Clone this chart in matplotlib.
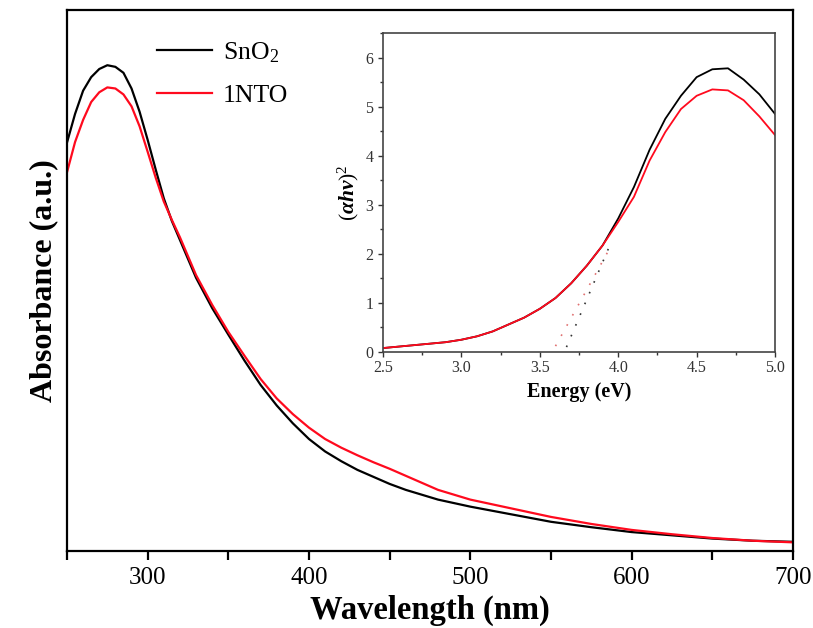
import matplotlib
matplotlib.use("Agg")
import matplotlib.pyplot as plt
from matplotlib.ticker import MultipleLocator

plt.rcParams["font.family"] = ["Liberation Serif", "DejaVu Serif"]
plt.rcParams["mathtext.fontset"] = "custom"
plt.rcParams["mathtext.rm"] = "Liberation Serif"
plt.rcParams["mathtext.it"] = "Liberation Serif:italic:bold"
plt.rcParams["mathtext.bf"] = "Liberation Serif:bold"

# UV-vis absorbance spectra (arbitrary units)
wavelength = [250, 255, 260, 265, 270, 275, 280, 285, 290, 295, 300, 305, 310, 315,
              320, 330, 340, 350, 360, 370, 380, 390, 400, 410, 420, 430, 440, 450,
              460, 480, 500, 525, 550, 575, 600, 625, 650, 675, 700]
abs_sno2 = [0.755, 0.808, 0.851, 0.876, 0.891, 0.898, 0.895, 0.884, 0.855, 0.812,
            0.760, 0.705, 0.652, 0.610, 0.575, 0.505, 0.449, 0.400, 0.352, 0.307,
            0.269, 0.236, 0.207, 0.184, 0.166, 0.150, 0.137, 0.124, 0.113, 0.095,
            0.082, 0.068, 0.054, 0.044, 0.035, 0.029, 0.023, 0.019, 0.017]
abs_1nto = [0.700, 0.756, 0.797, 0.830, 0.848, 0.857, 0.855, 0.844, 0.822, 0.785,
            0.738, 0.690, 0.646, 0.612, 0.580, 0.510, 0.455, 0.405, 0.361, 0.318,
            0.282, 0.253, 0.228, 0.207, 0.191, 0.177, 0.164, 0.152, 0.139, 0.113,
            0.095, 0.079, 0.063, 0.050, 0.039, 0.031, 0.024, 0.019, 0.016]

# Tauc plot data
energy = [2.5, 2.6, 2.7, 2.8, 2.9, 3.0, 3.1, 3.2, 3.3, 3.4, 3.5, 3.6, 3.7, 3.8, 3.9,
          4.0, 4.1, 4.2, 4.3, 4.4, 4.5, 4.6, 4.7, 4.8, 4.9, 5.0]
tauc_sno2 = [0.08, 0.11, 0.14, 0.17, 0.20, 0.25, 0.32, 0.42, 0.56, 0.70, 0.88, 1.10,
             1.40, 1.76, 2.17, 2.72, 3.36, 4.12, 4.75, 5.22, 5.60, 5.76, 5.78, 5.55,
             5.25, 4.85]
tauc_1nto = [0.08, 0.11, 0.14, 0.17, 0.20, 0.25, 0.32, 0.42, 0.56, 0.70, 0.88, 1.10,
             1.40, 1.76, 2.17, 2.65, 3.16, 3.90, 4.48, 4.95, 5.22, 5.35, 5.33, 5.13,
             4.80, 4.42]

# Linear extrapolations of the absorption edge
fit_sno2_E = [3.67, 3.95]
fit_sno2_y = [0.10, 2.20]
fit_1nto_E = [3.60, 3.93]
fit_1nto_y = [0.12, 2.02]

labels = ["SnO$_2$", "1NTO"]
black = "#000000"
red = "#ff0a1e"

fig = plt.figure(figsize=(8.13, 6.28), dpi=100)
ax = fig.add_axes([0.0824, 0.1226, 0.8930, 0.8614])

ax.plot(wavelength, abs_sno2, color=black, lw=1.6, label=labels[0])
ax.plot(wavelength, abs_1nto, color=red, lw=1.6, label=labels[1])
ax.set_xlim(250, 700)
ax.set_ylim(0, 1.0)
ax.set_yticks([])
ax.xaxis.set_major_locator(MultipleLocator(100))
ax.xaxis.set_minor_locator(MultipleLocator(50))
ax.tick_params(axis="x", which="both", direction="out", length=6.5, width=1.6,
               labelsize=18, pad=5, top=False)
for s in ax.spines.values():
    s.set_linewidth(1.6)
ax.set_xlabel("Wavelength (nm)", fontsize=23.5, fontweight="bold", labelpad=4)
ax.set_ylabel("Absorbance (a.u.)", fontsize=23, fontweight="bold", labelpad=6)

ax.legend(loc="upper left", bbox_to_anchor=(0.124, 0.944), frameon=False,
          fontsize=18.5, handlelength=2.15, handletextpad=0.4, labelspacing=0.75,
          borderpad=0, borderaxespad=0)

# Inset: Tauc plot
ins = fig.add_axes([0.4711, 0.4395, 0.4822, 0.5080])
ins.plot(energy, tauc_sno2, color=black, lw=1.3)
ins.plot(energy, tauc_1nto, color=red, lw=1.3)
ins.plot(fit_sno2_E, fit_sno2_y, color="#333333", lw=1.2, linestyle=(0, (1, 6)))
ins.plot(fit_1nto_E, fit_1nto_y, color="#e07070", lw=1.2, linestyle=(0, (1, 6)))
ins.set_xlim(2.5, 5.0)
ins.set_ylim(0, 6.5)
ins.xaxis.set_major_locator(MultipleLocator(0.5))
ins.xaxis.set_minor_locator(MultipleLocator(0.25))
ins.yaxis.set_major_locator(MultipleLocator(1))
ins.yaxis.set_minor_locator(MultipleLocator(0.5))
ins.tick_params(which="major", direction="out", length=3.5, width=1, labelsize=11.5,
                colors="#333333", pad=2.5)
ins.tick_params(which="minor", direction="out", length=2.2, width=1, colors="#333333")
ins.tick_params(axis="y", which="major", pad=3.5)
for s in ins.spines.values():
    s.set_linewidth(1.2)
    s.set_color("#444444")
ins.set_xlabel("Energy (eV)", fontsize=14.5, fontweight="bold", labelpad=4)
ins.set_ylabel(r"$(\alpha h\nu)^2$", fontsize=15.5, labelpad=3)

fig.savefig("out.png", dpi=100)
